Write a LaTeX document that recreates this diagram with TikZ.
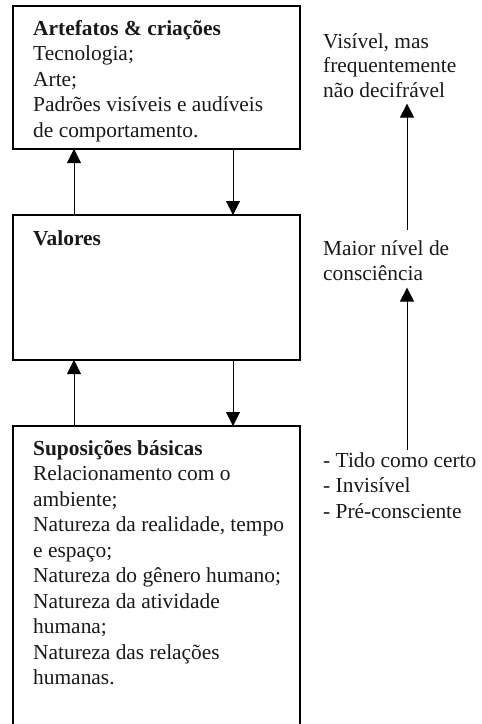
\documentclass[tikz,border=0pt]{standalone}
\usepackage{fontspec}
\setmainfont{Liberation Serif}
\usetikzlibrary{arrows.meta,calc}
\newcommand{\firstln}{\rule{0pt}{16pt}}
\begin{document}
\begin{tikzpicture}[x=1pt,y=-1pt,
  box/.style={draw,line width=1.8pt,minimum width=287pt,inner sep=0pt,outer sep=0pt,anchor=north west},
  txt/.style={anchor=north west,inner sep=0pt,align=left,font=\fontsize{21.4}{25.5}\selectfont,text=black!90},
  arr/.style={line width=1pt,-{Triangle[width=14pt,length=14pt]}}]
\useasboundingbox (0,0) rectangle (482,724);
% boxes
\node[box,minimum height=143pt] (b1) at (13,6) {};
\node[box,minimum height=145pt] (b2) at (13,215) {};
\node[box,minimum height=340pt] (b3) at (13,426) {};
% box texts (first baseline = y + 16)
\node[txt] (t1) at (33,19) {\firstln\textbf{Artefatos \& criações}\\Tecnologia;\\Arte;\\Padrões visíveis e audíveis\\de comportamento.};
\node[txt] (t2) at (33,229) {\firstln\textbf{Valores}};
\node[txt] (t3) at (33,439) {\firstln\textbf{Suposições básicas}\\Relacionamento com o\\ambiente;\\Natureza da realidade, tempo\\e espaço;\\Natureza do gênero humano;\\Natureza da atividade\\humana;\\Natureza das relações\\humanas.};
% side texts
\node[txt,font=\fontsize{21.4}{24.5}\selectfont] (vis) at (323,32) {\firstln Visível, mas\\frequentemente\\não decifrável};
\node[txt,font=\fontsize{21.4}{25}\selectfont] (maior) at (323,239) {\firstln Maior nível de\\consciência};
\node[txt,font=\fontsize{21.4}{25.5}\selectfont] (tido) at (323,451) {\firstln - Tido como certo\\- Invisível\\- Pré-consciente};
% columns
\coordinate (cL) at (74,0);
\coordinate (cR) at (233,0);
\coordinate (cA) at (407,0);
% box arrows
\draw[arr] (cL |- b2.north) -- (cL |- b1.south);
\draw[arr] (cR |- b1.south) -- (cR |- b2.north);
\draw[arr] (cL |- b3.north) -- (cL |- b2.south);
\draw[arr] (cR |- b2.south) -- (cR |- b3.north);
% side arrows
\draw[arr] ($(cA |- maior.north)+(0,-9)$) -- ($(cA |- vis.south)+(0,6)$);
\draw[arr] ($(cA |- tido.north)+(0,-1)$) -- ($(cA |- maior.south)+(0,7)$);
\end{tikzpicture}
\end{document}
